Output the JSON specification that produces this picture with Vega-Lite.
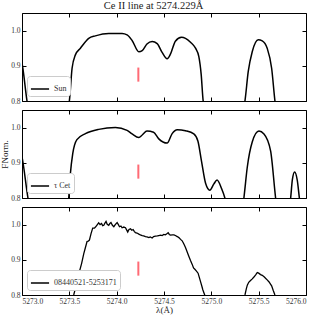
{
  "$schema": "https://vega.github.io/schema/vega-lite/v6.json",
  "padding": {"left": 0, "right": 6, "top": 0, "bottom": 0},
  "title": {"text": "Ce II line at 5274.229Å", "fontSize": 10.5, "fontWeight": "normal", "font": "Liberation Serif", "offset": 1, "color": "#222", "anchor": "middle"},
  "config": {
    "font": "Liberation Serif",
    "view": {"stroke": "black", "strokeWidth": 1},
    "axis": {"grid": false, "domain": false, "tickColor": "black", "tickSize": -4, "labelFontSize": 7.5, "labelColor": "#333", "titleFontSize": 9, "titleFontWeight": "normal", "titleColor": "#222", "labelPadding": 6, "minExtent": 0},
    "legend": {"orient": "bottom-left", "offset": 5, "fillColor": "white", "strokeColor": "#ccc", "cornerRadius": 3, "padding": 3, "symbolType": "stroke", "symbolStrokeWidth": 1.5, "symbolSize": 330, "labelFontSize": 8, "labelColor": "#333", "title": null}
  },
  "datasets": {
    "sun": [
      {"s": "Sun", "w": 5272.98, "f": 0.93},
      {"s": "Sun", "w": 5273.0, "f": 0.908},
      {"s": "Sun", "w": 5273.053, "f": 0.8},
      {"s": "Sun", "w": 5273.28, "f": 0.6},
      {"s": "Sun", "w": 5273.5, "f": 0.8},
      {"s": "Sun", "w": 5273.529, "f": 0.893},
      {"s": "Sun", "w": 5273.564, "f": 0.931},
      {"s": "Sun", "w": 5273.617, "f": 0.95},
      {"s": "Sun", "w": 5273.705, "f": 0.978},
      {"s": "Sun", "w": 5273.775, "f": 0.985},
      {"s": "Sun", "w": 5273.916, "f": 0.992},
      {"s": "Sun", "w": 5274.057, "f": 0.992},
      {"s": "Sun", "w": 5274.11, "f": 0.988},
      {"s": "Sun", "w": 5274.163, "f": 0.972},
      {"s": "Sun", "w": 5274.234, "f": 0.94},
      {"s": "Sun", "w": 5274.27, "f": 0.943},
      {"s": "Sun", "w": 5274.32, "f": 0.962},
      {"s": "Sun", "w": 5274.375, "f": 0.969},
      {"s": "Sun", "w": 5274.428, "f": 0.963},
      {"s": "Sun", "w": 5274.48, "f": 0.938},
      {"s": "Sun", "w": 5274.533, "f": 0.92},
      {"s": "Sun", "w": 5274.568, "f": 0.933},
      {"s": "Sun", "w": 5274.62, "f": 0.97},
      {"s": "Sun", "w": 5274.685, "f": 0.981},
      {"s": "Sun", "w": 5274.727, "f": 0.978},
      {"s": "Sun", "w": 5274.78, "f": 0.967},
      {"s": "Sun", "w": 5274.833, "f": 0.95},
      {"s": "Sun", "w": 5274.868, "f": 0.926},
      {"s": "Sun", "w": 5274.893, "f": 0.875},
      {"s": "Sun", "w": 5274.914, "f": 0.8},
      {"s": "Sun", "w": 5275.13, "f": 0.6},
      {"s": "Sun", "w": 5275.355, "f": 0.8},
      {"s": "Sun", "w": 5275.39, "f": 0.884},
      {"s": "Sun", "w": 5275.432, "f": 0.94},
      {"s": "Sun", "w": 5275.496, "f": 0.974},
      {"s": "Sun", "w": 5275.538, "f": 0.971},
      {"s": "Sun", "w": 5275.59, "f": 0.95},
      {"s": "Sun", "w": 5275.637, "f": 0.893},
      {"s": "Sun", "w": 5275.672, "f": 0.8},
      {"s": "Sun", "w": 5275.85, "f": 0.6},
      {"s": "Sun", "w": 5276.02, "f": 0.7}
    ],
    "tcet": [
      {"s": "τ Cet", "w": 5272.98, "f": 0.94},
      {"s": "τ Cet", "w": 5273.0, "f": 0.917},
      {"s": "τ Cet", "w": 5273.063, "f": 0.8},
      {"s": "τ Cet", "w": 5273.28, "f": 0.6},
      {"s": "τ Cet", "w": 5273.493, "f": 0.8},
      {"s": "τ Cet", "w": 5273.511, "f": 0.869},
      {"s": "τ Cet", "w": 5273.536, "f": 0.926},
      {"s": "τ Cet", "w": 5273.58, "f": 0.966},
      {"s": "τ Cet", "w": 5273.67, "f": 0.983},
      {"s": "τ Cet", "w": 5273.81, "f": 0.995},
      {"s": "τ Cet", "w": 5273.987, "f": 1.0},
      {"s": "τ Cet", "w": 5274.11, "f": 0.992},
      {"s": "τ Cet", "w": 5274.163, "f": 0.982},
      {"s": "τ Cet", "w": 5274.234, "f": 0.972},
      {"s": "τ Cet", "w": 5274.27, "f": 0.979},
      {"s": "τ Cet", "w": 5274.32, "f": 0.99},
      {"s": "τ Cet", "w": 5274.39, "f": 0.987},
      {"s": "τ Cet", "w": 5274.445, "f": 0.968},
      {"s": "τ Cet", "w": 5274.533, "f": 0.956},
      {"s": "τ Cet", "w": 5274.586, "f": 0.983},
      {"s": "τ Cet", "w": 5274.64, "f": 0.994},
      {"s": "τ Cet", "w": 5274.727, "f": 0.991},
      {"s": "τ Cet", "w": 5274.815, "f": 0.982},
      {"s": "τ Cet", "w": 5274.858, "f": 0.962},
      {"s": "τ Cet", "w": 5274.896, "f": 0.905},
      {"s": "τ Cet", "w": 5274.94, "f": 0.841},
      {"s": "τ Cet", "w": 5274.984, "f": 0.822},
      {"s": "τ Cet", "w": 5275.027, "f": 0.84},
      {"s": "τ Cet", "w": 5275.06, "f": 0.851},
      {"s": "τ Cet", "w": 5275.108, "f": 0.827},
      {"s": "τ Cet", "w": 5275.143, "f": 0.8},
      {"s": "τ Cet", "w": 5275.24, "f": 0.65},
      {"s": "τ Cet", "w": 5275.344, "f": 0.8},
      {"s": "τ Cet", "w": 5275.38, "f": 0.888},
      {"s": "τ Cet", "w": 5275.432, "f": 0.959},
      {"s": "τ Cet", "w": 5275.503, "f": 0.99},
      {"s": "τ Cet", "w": 5275.556, "f": 0.982},
      {"s": "τ Cet", "w": 5275.626, "f": 0.934},
      {"s": "τ Cet", "w": 5275.679, "f": 0.8},
      {"s": "τ Cet", "w": 5275.76, "f": 0.65},
      {"s": "τ Cet", "w": 5275.838, "f": 0.8},
      {"s": "τ Cet", "w": 5275.856, "f": 0.852},
      {"s": "τ Cet", "w": 5275.88, "f": 0.874},
      {"s": "τ Cet", "w": 5275.908, "f": 0.85},
      {"s": "τ Cet", "w": 5275.93, "f": 0.8},
      {"s": "τ Cet", "w": 5276.02, "f": 0.65}
    ],
    "star": [
      {"s": "08440521-5253171", "w": 5273.4, "f": 0.68},
      {"s": "08440521-5253171", "w": 5273.546, "f": 0.8},
      {"s": "08440521-5253171", "w": 5273.58, "f": 0.835},
      {"s": "08440521-5253171", "w": 5273.6, "f": 0.86},
      {"s": "08440521-5253171", "w": 5273.63, "f": 0.89},
      {"s": "08440521-5253171", "w": 5273.652, "f": 0.917},
      {"s": "08440521-5253171", "w": 5273.67, "f": 0.935},
      {"s": "08440521-5253171", "w": 5273.687, "f": 0.952},
      {"s": "08440521-5253171", "w": 5273.7, "f": 0.953},
      {"s": "08440521-5253171", "w": 5273.712, "f": 0.956},
      {"s": "08440521-5253171", "w": 5273.73, "f": 0.975},
      {"s": "08440521-5253171", "w": 5273.747, "f": 0.99},
      {"s": "08440521-5253171", "w": 5273.765, "f": 0.99},
      {"s": "08440521-5253171", "w": 5273.776, "f": 0.993},
      {"s": "08440521-5253171", "w": 5273.79, "f": 0.998},
      {"s": "08440521-5253171", "w": 5273.81, "f": 1.005},
      {"s": "08440521-5253171", "w": 5273.825, "f": 1.0},
      {"s": "08440521-5253171", "w": 5273.84, "f": 1.003},
      {"s": "08440521-5253171", "w": 5273.852, "f": 0.997},
      {"s": "08440521-5253171", "w": 5273.864, "f": 0.998},
      {"s": "08440521-5253171", "w": 5273.876, "f": 1.004},
      {"s": "08440521-5253171", "w": 5273.888, "f": 1.009},
      {"s": "08440521-5253171", "w": 5273.9, "f": 1.001},
      {"s": "08440521-5253171", "w": 5273.916, "f": 0.998},
      {"s": "08440521-5253171", "w": 5273.928, "f": 1.003},
      {"s": "08440521-5253171", "w": 5273.94, "f": 1.006},
      {"s": "08440521-5253171", "w": 5273.955, "f": 0.998},
      {"s": "08440521-5253171", "w": 5273.97, "f": 0.994},
      {"s": "08440521-5253171", "w": 5273.985, "f": 1.0},
      {"s": "08440521-5253171", "w": 5274.005, "f": 1.006},
      {"s": "08440521-5253171", "w": 5274.018, "f": 1.0},
      {"s": "08440521-5253171", "w": 5274.03, "f": 0.994},
      {"s": "08440521-5253171", "w": 5274.045, "f": 0.996},
      {"s": "08440521-5253171", "w": 5274.057, "f": 0.991},
      {"s": "08440521-5253171", "w": 5274.075, "f": 0.993},
      {"s": "08440521-5253171", "w": 5274.093, "f": 0.991},
      {"s": "08440521-5253171", "w": 5274.105, "f": 0.985},
      {"s": "08440521-5253171", "w": 5274.117, "f": 0.979},
      {"s": "08440521-5253171", "w": 5274.13, "f": 0.986},
      {"s": "08440521-5253171", "w": 5274.146, "f": 0.988},
      {"s": "08440521-5253171", "w": 5274.16, "f": 0.984},
      {"s": "08440521-5253171", "w": 5274.174, "f": 0.986},
      {"s": "08440521-5253171", "w": 5274.186, "f": 0.981},
      {"s": "08440521-5253171", "w": 5274.198, "f": 0.977},
      {"s": "08440521-5253171", "w": 5274.215, "f": 0.976},
      {"s": "08440521-5253171", "w": 5274.234, "f": 0.973},
      {"s": "08440521-5253171", "w": 5274.25, "f": 0.971},
      {"s": "08440521-5253171", "w": 5274.27, "f": 0.969},
      {"s": "08440521-5253171", "w": 5274.285, "f": 0.968},
      {"s": "08440521-5253171", "w": 5274.304, "f": 0.966},
      {"s": "08440521-5253171", "w": 5274.32, "f": 0.965},
      {"s": "08440521-5253171", "w": 5274.34, "f": 0.963},
      {"s": "08440521-5253171", "w": 5274.355, "f": 0.965},
      {"s": "08440521-5253171", "w": 5274.375, "f": 0.962},
      {"s": "08440521-5253171", "w": 5274.39, "f": 0.966},
      {"s": "08440521-5253171", "w": 5274.41, "f": 0.967},
      {"s": "08440521-5253171", "w": 5274.43, "f": 0.968},
      {"s": "08440521-5253171", "w": 5274.445, "f": 0.969},
      {"s": "08440521-5253171", "w": 5274.465, "f": 0.97},
      {"s": "08440521-5253171", "w": 5274.48, "f": 0.969},
      {"s": "08440521-5253171", "w": 5274.498, "f": 0.972},
      {"s": "08440521-5253171", "w": 5274.515, "f": 0.971},
      {"s": "08440521-5253171", "w": 5274.53, "f": 0.974},
      {"s": "08440521-5253171", "w": 5274.544, "f": 0.977},
      {"s": "08440521-5253171", "w": 5274.556, "f": 0.972},
      {"s": "08440521-5253171", "w": 5274.568, "f": 0.97},
      {"s": "08440521-5253171", "w": 5274.59, "f": 0.971},
      {"s": "08440521-5253171", "w": 5274.605, "f": 0.971},
      {"s": "08440521-5253171", "w": 5274.62, "f": 0.969},
      {"s": "08440521-5253171", "w": 5274.64, "f": 0.966},
      {"s": "08440521-5253171", "w": 5274.657, "f": 0.963},
      {"s": "08440521-5253171", "w": 5274.675, "f": 0.958},
      {"s": "08440521-5253171", "w": 5274.692, "f": 0.954},
      {"s": "08440521-5253171", "w": 5274.71, "f": 0.945},
      {"s": "08440521-5253171", "w": 5274.727, "f": 0.935},
      {"s": "08440521-5253171", "w": 5274.745, "f": 0.922},
      {"s": "08440521-5253171", "w": 5274.762, "f": 0.91},
      {"s": "08440521-5253171", "w": 5274.78, "f": 0.898},
      {"s": "08440521-5253171", "w": 5274.798, "f": 0.887},
      {"s": "08440521-5253171", "w": 5274.812, "f": 0.877},
      {"s": "08440521-5253171", "w": 5274.826, "f": 0.873},
      {"s": "08440521-5253171", "w": 5274.843, "f": 0.868},
      {"s": "08440521-5253171", "w": 5274.86, "f": 0.862},
      {"s": "08440521-5253171", "w": 5274.873, "f": 0.85},
      {"s": "08440521-5253171", "w": 5274.886, "f": 0.838},
      {"s": "08440521-5253171", "w": 5274.9, "f": 0.825},
      {"s": "08440521-5253171", "w": 5274.91, "f": 0.815},
      {"s": "08440521-5253171", "w": 5274.93, "f": 0.8},
      {"s": "08440521-5253171", "w": 5275.0, "f": 0.75},
      {"s": "08440521-5253171", "w": 5275.2, "f": 0.7},
      {"s": "08440521-5253171", "w": 5275.355, "f": 0.8},
      {"s": "08440521-5253171", "w": 5275.37, "f": 0.818},
      {"s": "08440521-5253171", "w": 5275.38, "f": 0.828},
      {"s": "08440521-5253171", "w": 5275.395, "f": 0.836},
      {"s": "08440521-5253171", "w": 5275.414, "f": 0.841},
      {"s": "08440521-5253171", "w": 5275.43, "f": 0.845},
      {"s": "08440521-5253171", "w": 5275.45, "f": 0.851},
      {"s": "08440521-5253171", "w": 5275.47, "f": 0.858},
      {"s": "08440521-5253171", "w": 5275.485, "f": 0.864},
      {"s": "08440521-5253171", "w": 5275.5, "f": 0.862},
      {"s": "08440521-5253171", "w": 5275.52, "f": 0.858},
      {"s": "08440521-5253171", "w": 5275.538, "f": 0.856},
      {"s": "08440521-5253171", "w": 5275.56, "f": 0.851},
      {"s": "08440521-5253171", "w": 5275.575, "f": 0.847},
      {"s": "08440521-5253171", "w": 5275.59, "f": 0.843},
      {"s": "08440521-5253171", "w": 5275.61, "f": 0.837},
      {"s": "08440521-5253171", "w": 5275.625, "f": 0.831},
      {"s": "08440521-5253171", "w": 5275.637, "f": 0.826},
      {"s": "08440521-5253171", "w": 5275.655, "f": 0.812},
      {"s": "08440521-5253171", "w": 5275.672, "f": 0.8},
      {"s": "08440521-5253171", "w": 5275.75, "f": 0.75},
      {"s": "08440521-5253171", "w": 5276.02, "f": 0.7}
    ],
    "marker": [
      {"w": 5274.229, "lo": 0.855, "hi": 0.895}
    ]
  },
  "spacing": 4,
  "resolve": {"scale": {"color": "independent"}, "legend": {"color": "independent"}},
  "vconcat": [
    {
      "width": 284, "height": 88,
      "resolve": {"axis": {"x": "independent", "y": "independent"}},
      "layer": [
        {
          "data": {"name": "sun"},
          "mark": {"type": "line", "clip": true, "interpolate": "monotone", "strokeWidth": 1.5},
          "encoding": {
            "x": {"field": "w", "type": "quantitative", "scale": {"domain": [5273, 5276], "nice": false, "zero": false}, "axis": {"orient": "bottom", "values": [5273, 5273.5, 5274, 5274.5, 5275, 5275.5, 5276], "labels": false, "title": null}},
            "y": {"field": "f", "type": "quantitative", "scale": {"domain": [0.8, 1.05], "nice": false, "zero": false}, "axis": {"orient": "left", "values": [0.8, 0.9, 1.0], "format": ".1f", "title": null}},
            "color": {"field": "s", "type": "nominal", "scale": {"range": ["black"]}}
          }
        },
        {
          "data": {"name": "marker"},
          "mark": {"type": "rule", "color": "#ff6b75", "strokeWidth": 2},
          "encoding": {
            "x": {"field": "w", "type": "quantitative", "axis": {"orient": "top", "values": [5273, 5273.5, 5274, 5274.5, 5275, 5275.5, 5276], "labels": false, "title": null}},
            "y": {"field": "lo", "type": "quantitative", "axis": {"orient": "right", "values": [0.8, 0.9, 1.0], "labels": false, "title": null}},
            "y2": {"field": "hi"}
          }
        }
      ]
    },
    {
      "width": 284, "height": 88,
      "resolve": {"axis": {"x": "independent", "y": "independent"}},
      "layer": [
        {
          "data": {"name": "tcet"},
          "mark": {"type": "line", "clip": true, "interpolate": "monotone", "strokeWidth": 1.5},
          "encoding": {
            "x": {"field": "w", "type": "quantitative", "scale": {"domain": [5273, 5276], "nice": false, "zero": false}, "axis": {"orient": "bottom", "values": [5273, 5273.5, 5274, 5274.5, 5275, 5275.5, 5276], "labels": false, "title": null}},
            "y": {"field": "f", "type": "quantitative", "scale": {"domain": [0.8, 1.05], "nice": false, "zero": false}, "axis": {"orient": "left", "values": [0.8, 0.9, 1.0], "format": ".1f", "title": "FNorm.", "titlePadding": 1}},
            "color": {"field": "s", "type": "nominal", "scale": {"range": ["black"]}}
          }
        },
        {
          "data": {"name": "marker"},
          "mark": {"type": "rule", "color": "#ff6b75", "strokeWidth": 2},
          "encoding": {
            "x": {"field": "w", "type": "quantitative", "axis": {"orient": "top", "values": [5273, 5273.5, 5274, 5274.5, 5275, 5275.5, 5276], "labels": false, "title": null}},
            "y": {"field": "lo", "type": "quantitative", "axis": {"orient": "right", "values": [0.8, 0.9, 1.0], "labels": false, "title": null}},
            "y2": {"field": "hi"}
          }
        }
      ]
    },
    {
      "width": 284, "height": 88,
      "resolve": {"axis": {"x": "independent", "y": "independent"}},
      "layer": [
        {
          "data": {"name": "star"},
          "mark": {"type": "line", "clip": true, "strokeWidth": 1.3},
          "encoding": {
            "x": {"field": "w", "type": "quantitative", "scale": {"domain": [5273, 5276], "nice": false, "zero": false}, "axis": {"orient": "bottom", "values": [5273, 5273.5, 5274, 5274.5, 5275, 5275.5, 5276], "format": ".1f", "title": "λ(Å)", "titlePadding": 1}},
            "y": {"field": "f", "type": "quantitative", "scale": {"domain": [0.8, 1.05], "nice": false, "zero": false}, "axis": {"orient": "left", "values": [0.8, 0.9, 1.0], "format": ".1f", "title": null}},
            "color": {"field": "s", "type": "nominal", "scale": {"range": ["black"]}}
          }
        },
        {
          "data": {"name": "marker"},
          "mark": {"type": "rule", "color": "#ff6b75", "strokeWidth": 2},
          "encoding": {
            "x": {"field": "w", "type": "quantitative", "axis": {"orient": "top", "values": [5273, 5273.5, 5274, 5274.5, 5275, 5275.5, 5276], "labels": false, "title": null}},
            "y": {"field": "lo", "type": "quantitative", "axis": {"orient": "right", "values": [0.8, 0.9, 1.0], "labels": false, "title": null}},
            "y2": {"field": "hi"}
          }
        }
      ]
    }
  ]
}
